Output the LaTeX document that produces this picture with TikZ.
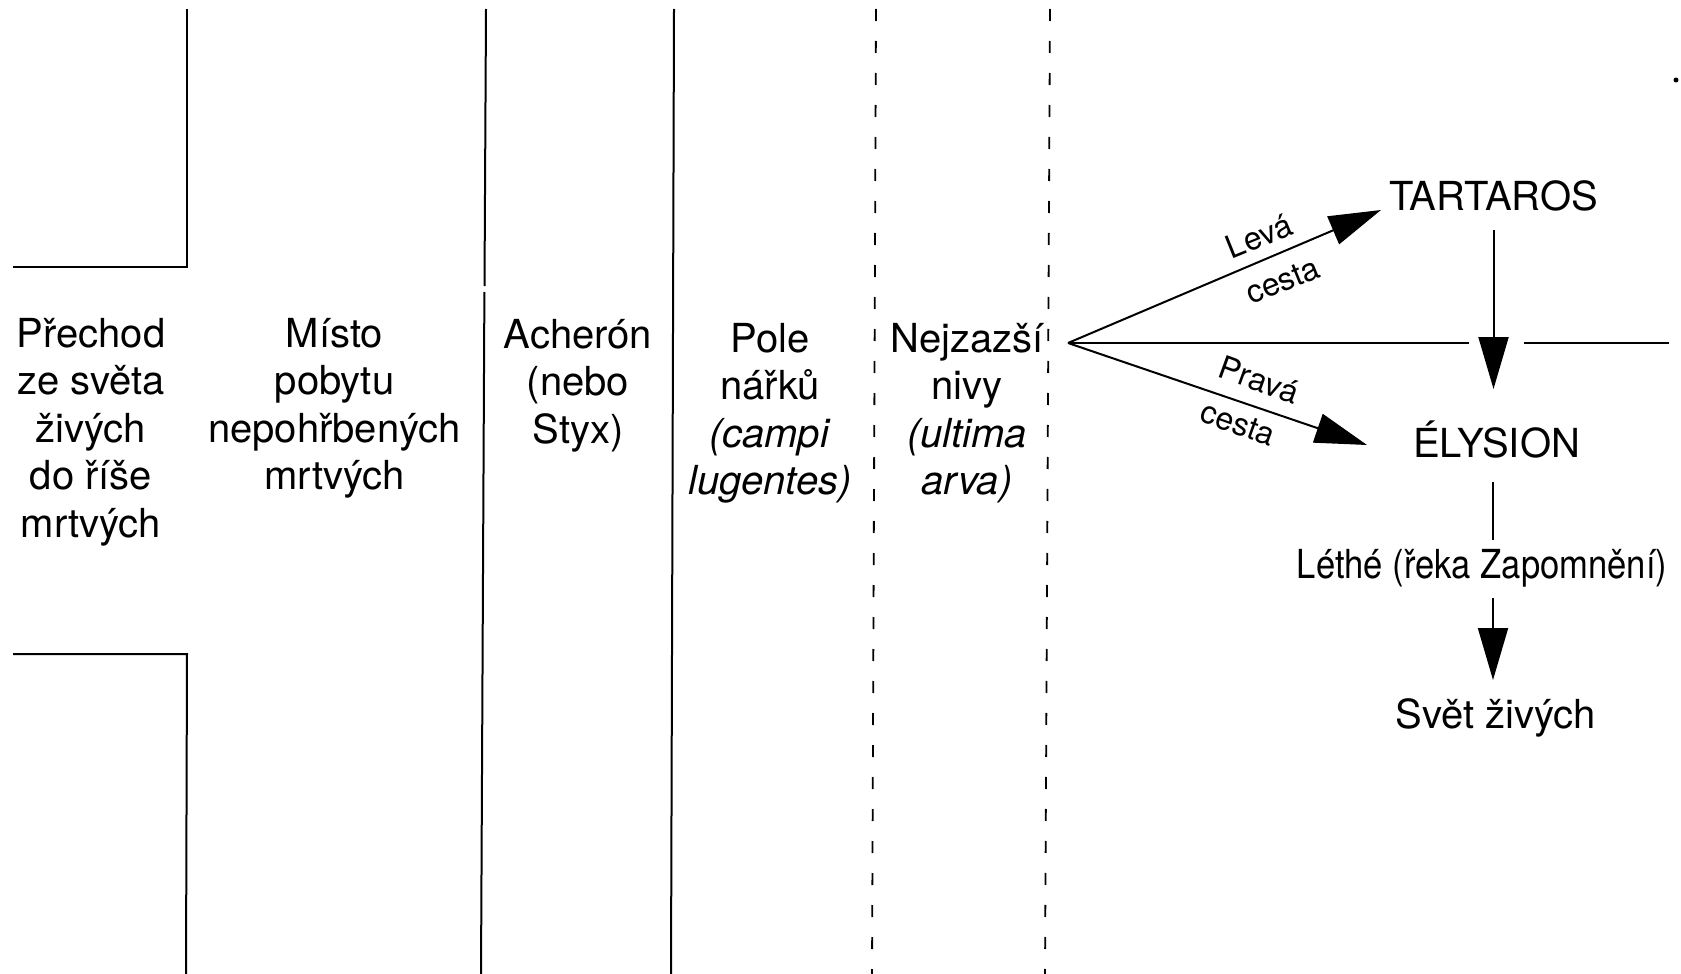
\documentclass[tikz,border=0pt]{standalone}
\usepackage{fontspec}
\setmainfont{TeX Gyre Heros}
\usepackage{graphicx}
\usetikzlibrary{arrows.meta,calc}
\begin{document}
\begin{tikzpicture}[x=1pt,y=-1pt,
  every node/.style={inner sep=0pt,outer sep=0pt},
  txt/.style={font=\fontsize{40}{47.5}\selectfont, align=center, anchor=base},
  lbl/.style={font=\fontsize{32}{36}\selectfont, anchor=center},
  wall/.style={line width=2pt},
  dashwall/.style={line width=1.8pt, dash pattern=on 12pt off 20pt},
  conn/.style={line width=2pt},
  arr/.style={line width=2pt, -{Triangle[length=52pt,width=30pt]}}]
\useasboundingbox (0,0) rectangle (1681,974);

% walls
\draw[wall] (13,267) -- (187,267) -- (187,9);
\draw[wall] (13,654) -- (187,654) -- (186,974);
\draw[wall] (486,9) -- (484.5,286);
\draw[wall] (484.4,292) -- (481,974);
\draw[wall] (674,9) -- (671,974);
\draw[dashwall] (876,9) -- (872,974);
\draw[dashwall] (1050,9) -- (1045,974);

% column texts (base anchor = baseline of the last line)
\node[txt] (c1) at (91,537) {Přechod\\ze světa\\živých\\do říše\\mrtvých};
\node[txt] (c2) at (334.5,489.5) {Místo\\pobytu\\nepohřbených\\mrtvých};
\node[txt] (c3) at (578,443) {Acherón\\(nebo\\Styx)};
\node[txt] (c4) at (770,494.5) {Pole\\nářků\\\textit{(campi}\\\textit{lugentes)}};
\node[txt] (c5) at (967,494.5) {Nejzazší\\nivy\\\textit{(ultima}\\\textit{arva)}};

% right side
\coordinate (fork) at (1068,343);
\node[txt] (tar) at (1493.5,210) {TARTAROS};
\node[txt] (ely) at (1496.5,457) {ÉLYSION};
\node[txt] (lethe) at (1482,578) {\scalebox{0.865}[1]{Léthé (řeka Zapomnění)}};
\node[txt] (svet) at (1496,728) {Svět živých};

\draw[arr] (fork) -- ($(tar.base)+(-112.5,0)$);
\draw[arr] (fork) -- ($(ely.base)+(-129.5,-12)$);
\draw[conn] (fork) -- ($(fork)+(401,0)$);
\draw[conn] ($(fork)+(456,0)$) -- ($(fork)+(601,0)$);
\draw[arr] ($(tar.base)+(0,20)$) -- ($(tar.base |- ely.base)+(0,-68)$);
\draw[conn] ($(ely.base)+(-3.5,25)$) -- ($(lethe.base)+(11,-38)$);
\draw[arr] ($(lethe.base)+(11,20)$) -- ($(svet.base)+(-3,-48)$);

\node[lbl, rotate=22] (leva) at (1259,236) {Levá};
\node[lbl, rotate=22] (cesta1) at (1283,281) {cesta};
\node[lbl, rotate=-20] (prava) at (1259,380) {Pravá};
\node[lbl, rotate=-20] (cesta2) at (1238,424) {cesta};

\fill (1676,80) circle (2.5pt);
\end{tikzpicture}
\end{document}
